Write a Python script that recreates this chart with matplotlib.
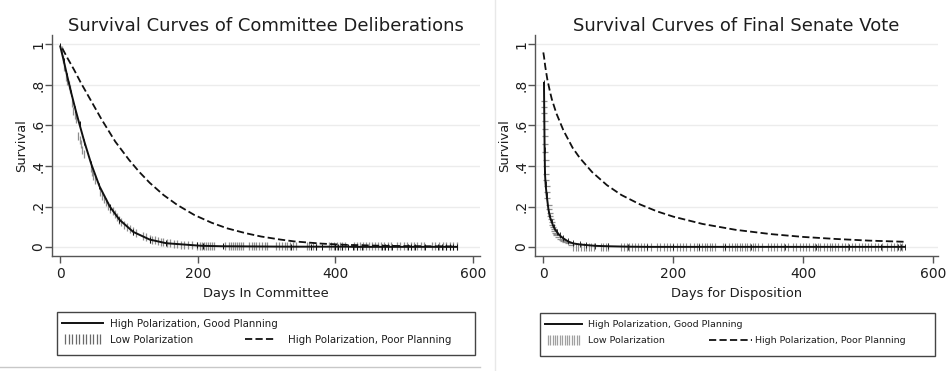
import matplotlib
matplotlib.use("Agg")
import matplotlib.pyplot as plt
from matplotlib.lines import Line2D
from matplotlib.patches import Rectangle
from matplotlib.legend_handler import HandlerLine2D

plt.rcParams['font.family'] = ['DejaVu Sans']

# ---- left panel: days in committee ----
com_good_x = [0, 5, 10, 16, 22, 28, 35, 45, 57, 72, 86, 106, 130, 154, 198,
              207, 236, 336, 365, 372, 380, 399, 404, 409, 418, 425, 431, 438,
              467, 472, 477, 482, 505, 510, 515, 530, 549, 555, 561, 566, 571, 576]
com_good_y = [0.99, 0.92, 0.845, 0.76, 0.68, 0.605, 0.52, 0.41, 0.30, 0.20, 0.135,
              0.075, 0.037, 0.019, 0.008,
              0.006, 0.004, 0.002, 0.002, 0.002, 0.002, 0.002, 0.002, 0.002, 0.002,
              0.001, 0.001, 0.001, 0.001, 0.001, 0.001, 0.001, 0.001, 0.001, 0.001,
              0.001, 0.001, 0.001, 0.001, 0.001, 0.001, 0.001]

com_low_x = [2, 4, 6, 8, 10, 12, 14, 17, 19, 21, 23, 26, 28, 30, 32, 34, 44, 46, 48,
             50, 58, 61, 64, 67, 70, 73, 76, 79, 83, 86, 89, 93, 97, 101, 105, 110,
             120, 125, 130, 134, 138, 142, 146, 150, 155, 160, 165, 170, 175, 180,
             186, 192, 198]
com_low_y = [0.97, 0.93, 0.89, 0.84, 0.82, 0.80, 0.78, 0.71, 0.67, 0.65, 0.63, 0.55,
             0.53, 0.51, 0.48, 0.46, 0.39, 0.37, 0.35, 0.33, 0.27, 0.25, 0.235, 0.22,
             0.205, 0.19, 0.18, 0.165, 0.15, 0.135, 0.125, 0.11, 0.10, 0.09, 0.08,
             0.07, 0.055, 0.048, 0.042, 0.037, 0.033, 0.029, 0.026, 0.023, 0.02,
             0.018, 0.016, 0.014, 0.012, 0.011, 0.009, 0.008, 0.007]
com_low_tail_x = [203, 206, 209, 212, 215, 218, 221, 224, 240, 245, 248, 251, 254, 257,
                  260, 263, 266, 275, 278, 281, 285, 289, 293, 297, 301, 314, 318, 322,
                  326, 330, 334, 338, 342, 358, 362, 367, 371, 390, 394, 398, 402, 406,
                  410, 414, 427, 431, 435, 440, 444, 449, 453, 457, 462, 466, 471, 476,
                  480, 489, 494, 499, 504, 509, 514, 519, 524, 529, 540, 545, 551, 556,
                  561, 566, 571, 576]
com_low_tail_y = 0.003

com_poor_x = [3, 10, 20, 30, 40, 50, 60, 70, 80, 90, 100, 115, 130, 150, 170, 195,
              220, 243, 270, 292, 320, 340, 380, 415, 460, 500, 540, 575]
com_poor_y = [0.98, 0.935, 0.875, 0.81, 0.75, 0.69, 0.63, 0.575, 0.52, 0.475, 0.43,
              0.37, 0.317, 0.257, 0.208, 0.158, 0.12, 0.092, 0.068, 0.052, 0.037,
              0.028, 0.017, 0.011, 0.007, 0.005, 0.004, 0.003]

# ---- right panel: days for disposition ----
sen_good_x = [1, 1.5, 2, 2.6, 3.5, 5.1, 7.7, 10, 12.8, 16, 20.5, 25, 30.8, 38, 46,
              56, 66, 80, 100, 130, 160, 200, 240, 280, 320, 372, 420, 470, 520,
              545, 550, 556]
sen_good_y = [0.81, 0.64, 0.48, 0.36, 0.31, 0.257, 0.19, 0.15, 0.125, 0.098, 0.076,
              0.058, 0.043, 0.028, 0.018, 0.013, 0.01, 0.006, 0.004, 0.002, 0.001,
              0.001, 0.001, 0.001, 0.001, 0.001, 0.001, 0.001, 0.001, 0.001, 0.001,
              0.001]

sen_low_x = [1, 1.3, 1.6, 1.9, 2.2, 2.5, 2.8, 3.1, 3.4, 3.7, 4.0, 4.5, 5.0, 5.5, 6.0,
             8, 9, 10, 11, 12, 13, 14, 15, 16, 17, 18, 19, 20, 22, 25, 28, 31, 34,
             38, 42]
sen_low_y = [0.72, 0.69, 0.66, 0.62, 0.58, 0.55, 0.51, 0.47, 0.43, 0.40, 0.36, 0.33,
             0.30, 0.27, 0.24, 0.21, 0.19, 0.17, 0.155, 0.14, 0.125, 0.11, 0.10, 0.09,
             0.08, 0.07, 0.065, 0.06, 0.05, 0.042, 0.035, 0.03, 0.024, 0.018, 0.012]
sen_low_tail_x = [46, 50, 54, 58, 62, 66, 70, 74, 78, 88, 92, 96, 100, 120, 124, 128,
                  132, 136, 141, 146, 150, 155, 160, 165, 175, 180, 185, 190, 195, 200,
                  205, 210, 215, 220, 225, 232, 236, 240, 244, 248, 252, 256, 260, 264,
                  276, 280, 285, 290, 295, 298, 302, 305, 310, 314, 318, 323, 326, 330,
                  336, 345, 350, 355, 360, 365, 370, 376, 384, 389, 394, 399, 404, 409,
                  414, 418, 422, 426, 431, 436, 441, 444, 448, 453, 459, 464, 469, 474,
                  480, 485, 490, 494, 499, 504, 510, 515, 521, 529, 534, 539, 544, 548,
                  552]
sen_low_tail_y = 0.002

sen_poor_x = [0, 1, 3, 6, 10, 13, 20, 31, 45, 56, 75, 98, 120, 149, 175, 200, 245,
              296, 350, 400, 450, 500, 556]
sen_poor_y = [0.96, 0.94, 0.89, 0.83, 0.77, 0.73, 0.66, 0.575, 0.49, 0.44, 0.37,
              0.305, 0.257, 0.21, 0.176, 0.15, 0.114, 0.085, 0.064, 0.05, 0.04,
              0.032, 0.026]

titles = ['Survival Curves of Committee Deliberations', 'Survival Curves of Final Senate Vote']
xlabels = ['Days In Committee', 'Days for Disposition']
labels = ['High Polarization, Good Planning', 'Low Polarization',
          'High Polarization, Poor Planning']
yticks = [0, 0.2, 0.4, 0.6, 0.8, 1]
ytick_labels = ['0', '.2', '.4', '.6', '.8', '1']
xticks = [0, 200, 400, 600]

GRAY = '#8e8e8e'
AXC = '#555555'
TXT = '#1e1e1e'
DASH = (0, (4.0, 1.8))

W, H = 946, 371
fig = plt.figure(figsize=(W / 100, H / 100), dpi=100)
fig.patch.set_facecolor('white')

ax1 = fig.add_axes([52 / W, 1 - 256 / H, 428 / W, 221 / H])
ax2 = fig.add_axes([535 / W, 1 - 256 / H, 403 / W, 221 / H])


def style(ax, xlim, title, xlabel):
    ax.set_xlim(*xlim)
    ax.set_ylim(-0.044, 1.046)
    ax.set_xticks(xticks)
    ax.set_yticks(yticks)
    ax.set_yticklabels(ytick_labels, rotation=90, va='center')
    for s in ['top', 'right']:
        ax.spines[s].set_visible(False)
    for s in ['left', 'bottom']:
        ax.spines[s].set_color(AXC)
        ax.spines[s].set_linewidth(1)
    ax.tick_params(colors=AXC, labelcolor=TXT, length=5, width=1, labelsize=10)
    ax.tick_params(axis='x', pad=3)
    ax.tick_params(axis='y', pad=0)
    ax.grid(axis='y', color='#ececec', lw=1)
    ax.set_axisbelow(True)
    ax.set_title(title, fontsize=13, color=TXT, pad=3)
    ax.set_xlabel(xlabel, fontsize=9.4, color=TXT, labelpad=4)
    ax.set_ylabel('Survival', fontsize=9.4, color=TXT, labelpad=2)


# left panel
ax1.plot(com_low_x, com_low_y, ls='none', marker='|', ms=6, mew=0.9, color=GRAY, zorder=2)
ax1.plot(com_low_tail_x, [com_low_tail_y] * len(com_low_tail_x), ls='none', marker='|',
         ms=6, mew=0.9, color=GRAY, zorder=2)
ax1.plot(com_poor_x, com_poor_y, color='#111111', lw=1.3, ls=DASH, zorder=3)
ax1.plot(com_good_x, com_good_y, color='#111111', lw=1.4, marker='|', ms=5, mew=0.7, zorder=4)
style(ax1, (-12, 610), titles[0], xlabels[0])

# right panel
ax2.plot(sen_low_x, sen_low_y, ls='none', marker='_', ms=5, mew=0.9, color=GRAY, zorder=2)
ax2.plot(sen_low_tail_x, [sen_low_tail_y] * len(sen_low_tail_x), ls='none', marker='|',
         ms=6, mew=0.8, color=GRAY, zorder=2)
ax2.plot(sen_poor_x, sen_poor_y, color='#111111', lw=1.3, ls=DASH, zorder=3)
ax2.plot(sen_good_x, sen_good_y, color='#111111', lw=1.4, marker='|', ms=5, mew=0.6, zorder=4)
style(ax2, (-12.8, 607), titles[1], xlabels[1])


def legend(box, a_pos, b_pos, fs, hl_a, hl_b, pad_a, pad_b, gap, npts, tick_color):
    x0, y0, x1, y1 = box
    fig.add_artist(Rectangle((x0 / W, 1 - y1 / H), (x1 - x0) / W, (y1 - y0) / H,
                             transform=fig.transFigure, fill=False, ec='#444444', lw=1))
    good = Line2D([], [], color='#111111', lw=1.4)
    low = Line2D([], [], ls='none', marker='|', ms=7, mew=0.9, color=tick_color)
    poor = Line2D([], [], color='#111111', lw=1.3, ls=DASH)
    blank = Line2D([], [], color='none')
    la = fig.legend([good, low], labels[:2], loc='upper left',
                    bbox_to_anchor=(a_pos[0] / W, 1 - a_pos[1] / H),
                    frameon=False, fontsize=fs, handlelength=hl_a, handletextpad=pad_a,
                    borderpad=0, borderaxespad=0, labelspacing=gap,
                    handler_map={low: HandlerLine2D(numpoints=npts)})
    lb = fig.legend([blank, poor], [' ', labels[2]], loc='upper left',
                    bbox_to_anchor=(b_pos[0] / W, 1 - b_pos[1] / H),
                    frameon=False, fontsize=fs, handlelength=hl_b, handletextpad=pad_b,
                    borderpad=0, borderaxespad=0, labelspacing=gap)
    for t in la.get_texts() + lb.get_texts():
        t.set_color(TXT)


legend((57, 312, 475, 355), (62, 319), (245, 319), 7.4, 4.0, 3.0, 0.7, 1.2, 0.58, 11, '#6a6a6a')
legend((540, 313, 935, 356), (545, 320), (709, 320), 6.8, 3.9, 4.5, 0.6, 0.35, 0.74, 14, '#a0a0a0')

# panel separators
fig.add_artist(Line2D([495 / W, 495 / W], [0, 1], transform=fig.transFigure,
                      color='#e8e8e8', lw=1))
fig.add_artist(Line2D([0, 480 / W], [1 - 367 / H, 1 - 367 / H], transform=fig.transFigure,
                      color='#c8c8c8', lw=1))

fig.savefig('out.png', dpi=100, facecolor='white')
